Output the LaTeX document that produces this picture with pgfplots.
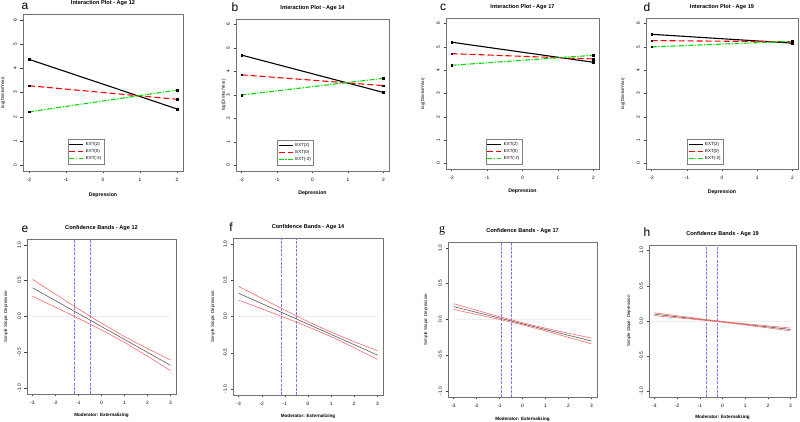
\documentclass[border=0pt]{standalone}
\usepackage{pgfplots}
\pgfplotsset{compat=1.18}
\usepackage{fontspec}
\setmainfont{Liberation Sans}
\newfontfamily\serifletter{Liberation Serif}
\definecolor{rgreen}{RGB}{0,220,0}
\definecolor{rred}{RGB}{255,0,0}
\definecolor{band}{RGB}{255,105,105}
\definecolor{cbl}{RGB}{120,120,255}
\tikzset{
 sblk/.style={black, line width=1.1pt},
 sred/.style={rred, line width=1.1pt, dash pattern=on 6pt off 3pt},
 sgrn/.style={rgreen, line width=1.1pt, dash pattern=on 5pt off 1.5pt on 1.2pt off 1.5pt},
 sctr/.style={black!65, line width=0.6pt},
 sbnd/.style={band, line width=0.6pt},
 svbl/.style={cbl, line width=0.7pt, dash pattern=on 3pt off 1.2pt},
 szer/.style={black!12, line width=0.4pt, dash pattern=on 1pt off 1pt},
}
\pgfplotsset{
 rstyle/.style={
  scale only axis, anchor=south west,
  axis line style={black!55, line width=0.5pt},
  tick align=outside, xtick pos=bottom, ytick pos=left,
  major tick length=2.5pt, tick style={black!75, line width=0.4pt},
  ticklabel style={font=\fontsize{4.8}{5}\selectfont},
  /pgf/number format/assume math mode=true,
  yticklabel style={rotate=90, anchor=south},
  xticklabel style={yshift=-1pt},
  title style={font=\fontsize{5.6}{6}\selectfont\bfseries, at={(0.5,1)}, anchor=center, yshift=5pt},
  xlabel style={font=\fontsize{5.2}{6}\selectfont\bfseries, anchor=center},
  ylabel style={font=\fontsize{4.4}{5}\selectfont, anchor=center},
 },
 top/.style={rstyle, xmin=-2.16, xmax=2.16, ymin=-0.24, ymax=6.24,
  xtick={-2,-1,0,1,2}, ytick={0,1,2,3,4,5,6},
  xlabel={Depression}, ylabel={log(Drinks/Year)},
  legend style={draw=black!50, font=\fontsize{4.4}{5}\selectfont, inner sep=0.8pt, row sep=-1.5pt, anchor=south west, fill=white},
  legend cell align=left,
  legend image code/.code={\draw[##1] (0pt,0pt) -- (14pt,0pt);},
 },
 bot/.style={rstyle, xmin=-3.24, xmax=3.24, ymin=-1.08, ymax=1.08,
  xtick={-3,-2,-1,0,1,2,3}, ytick={-1,-0.5,0,0.5,1},
  yticklabel style={/pgf/number format/.cd, fixed, fixed zerofill, precision=1},
  xlabel={Moderator: Externalizing}, ylabel={Simple Slope: Depression},
  xlabel style={font=\fontsize{4.6}{5}\selectfont\bfseries},
 },
 ends/.style={only marks, mark=square*, mark size=0.8pt, black, forget plot},
}
\begin{document}
\begin{tikzpicture}
\path[use as bounding box] (0pt,0pt) rectangle (800pt,422pt);

% ---------- a ----------
\begin{axis}[top, at={(23pt,251pt)}, width=160pt, height=157pt,
  title={Interaction Plot - Age 12},
  xlabel style={at={(axis description cs:0.5,-0.153)}},
  ylabel style={at={(axis description cs:-0.125,0.5)}},
  legend style={at={(0.28,0.045)}}]
\addlegendimage{sblk}\addlegendimage{sred}\addlegendimage{sgrn}
\addplot[sblk, forget plot] coordinates {(-2,4.37) (2,2.32)};
\addplot[sred, forget plot] coordinates {(-2,3.28) (2,2.72)};
\addplot[sgrn, forget plot] coordinates {(-2,2.20) (2,3.10)};
\addplot[ends] coordinates {(-2,4.37) (2,2.32) (-2,3.28) (2,2.72) (-2,2.20) (2,3.10)};
\legend{EXT(2),EXT(0),EXT(-2)}
\end{axis}

% ---------- b ----------
\begin{axis}[top, at={(236pt,251pt)}, width=153pt, height=152pt,
  title={Interaction Plot - Age 14},
  xlabel style={at={(axis description cs:0.5,-0.145)}},
  ylabel style={at={(axis description cs:-0.08,0.5)}},
  legend style={at={(0.27,0.04)}}]
\addlegendimage{sblk}\addlegendimage{sred}\addlegendimage{sgrn}
\addplot[sblk, forget plot] coordinates {(-2,4.70) (2,3.11)};
\addplot[sred, forget plot] coordinates {(-2,3.86) (2,3.40)};
\addplot[sgrn, forget plot] coordinates {(-2,3.00) (2,3.71)};
\addplot[ends] coordinates {(-2,4.70) (2,3.11) (-2,3.86) (2,3.40) (-2,3.00) (2,3.71)};
\legend{EXT(2),EXT(0),EXT(-2)}
\end{axis}

% ---------- c ----------
\begin{axis}[top, at={(446pt,253pt)}, width=153pt, height=151pt,
  title={Interaction Plot - Age 17},
  xlabel style={at={(axis description cs:0.5,-0.146)}},
  ylabel style={at={(axis description cs:-0.15,0.5)}},
  legend style={at={(0.26,0.033)}}]
\addlegendimage{sblk}\addlegendimage{sred}\addlegendimage{sgrn}
\addplot[sblk, forget plot] coordinates {(-2,5.20) (2,4.34)};
\addplot[sred, forget plot] coordinates {(-2,4.71) (2,4.48)};
\addplot[sgrn, forget plot] coordinates {(-2,4.21) (2,4.64)};
\addplot[ends] coordinates {(-2,5.20) (2,4.34) (-2,4.71) (2,4.48) (-2,4.21) (2,4.64)};
\legend{EXT(2),EXT(0),EXT(-2)}
\end{axis}

% ---------- d ----------
\begin{axis}[top, at={(646pt,253pt)}, width=152pt, height=151pt,
  title={Interaction Plot - Age 19},
  xlabel style={at={(axis description cs:0.5,-0.152)}},
  ylabel style={at={(axis description cs:-0.151,0.5)}},
  legend style={at={(0.27,0.033)}}]
\addlegendimage{sblk}\addlegendimage{sred}\addlegendimage{sgrn}
\addplot[sblk, forget plot] coordinates {(-2,5.54) (2,5.16)};
\addplot[sred, forget plot] coordinates {(-2,5.27) (2,5.22)};
\addplot[sgrn, forget plot] coordinates {(-2,5.00) (2,5.24)};
\addplot[ends] coordinates {(-2,5.54) (2,5.16) (-2,5.27) (2,5.22) (-2,5.00) (2,5.24)};
\legend{EXT(2),EXT(0),EXT(-2)}
\end{axis}

% ---------- e ----------
\begin{axis}[bot, at={(27pt,28pt)}, width=149pt, height=155pt,
  title={Confidence Bands - Age 12},
  xlabel style={at={(axis description cs:0.5,-0.135)}},
  ylabel style={at={(axis description cs:-0.141,0.5)}}]
\addplot[szer] coordinates {(-3,0) (3,0)};
\addplot[svbl] coordinates {(-1.17,-1.08) (-1.17,1.08)};
\addplot[svbl] coordinates {(-0.48,-1.08) (-0.48,1.08)};
\addplot[sctr] coordinates {(-3,0.40) (3,-0.68)};
\addplot[sbnd] coordinates {(-3,0.517) (-2,0.310) (-1,0.1055) (0,-0.094) (1,-0.280) (2,-0.447) (3,-0.605)};
\addplot[sbnd] coordinates {(-3,0.283) (-2,0.130) (-1,-0.0255) (0,-0.186) (1,-0.360) (2,-0.553) (3,-0.755)};
\end{axis}

% ---------- f ----------
\begin{axis}[bot, at={(233pt,27pt)}, width=150pt, height=157pt,
  title={Confidence Bands - Age 14},
  xlabel style={at={(axis description cs:0.5,-0.134)}},
  ylabel style={at={(axis description cs:-0.133,0.5)}}]
\addplot[szer] coordinates {(-3,0) (3,0)};
\addplot[svbl] coordinates {(-1.15,-1.08) (-1.15,1.08)};
\addplot[svbl] coordinates {(-0.49,-1.08) (-0.49,1.08)};
\addplot[sctr] coordinates {(-3,0.32) (3,-0.53)};
\addplot[sbnd] coordinates {(-3,0.415) (-2,0.251) (-1,0.089) (0,-0.070) (1,-0.216) (2,-0.347) (3,-0.470)};
\addplot[sbnd] coordinates {(-3,0.225) (-2,0.106) (-1,-0.015) (0,-0.141) (1,-0.277) (2,-0.430) (3,-0.590)};
\end{axis}

% ---------- g ----------
\begin{axis}[bot, at={(448pt,25pt)}, width=149pt, height=155pt,
  title={Confidence Bands - Age 17},
  xlabel style={at={(axis description cs:0.5,-0.142)}},
  ylabel style={at={(axis description cs:-0.148,0.5)}}]
\addplot[szer] coordinates {(-3,0) (3,0)};
\addplot[svbl] coordinates {(-0.905,-1.08) (-0.905,1.08)};
\addplot[svbl] coordinates {(-0.475,-1.08) (-0.475,1.08)};
\addplot[sctr] coordinates {(-3,0.18) (3,-0.30)};
\addplot[sbnd] coordinates {(-3,0.22) (-2,0.129) (-1,0.039) (0,-0.046) (1,-0.121) (2,-0.191) (3,-0.26)};
\addplot[sbnd] coordinates {(-3,0.14) (-2,0.071) (-1,0.001) (0,-0.074) (1,-0.159) (2,-0.249) (3,-0.34)};
\end{axis}

% ---------- h ----------
\begin{axis}[bot, at={(649pt,25pt)}, width=147pt, height=152pt,
  title={Confidence Bands - Age 19},
  xlabel style={at={(axis description cs:0.5,-0.132)}},
  ylabel style={at={(axis description cs:-0.136,0.5)}}]
\addplot[szer] coordinates {(-3,0) (3,0)};
\addplot[svbl] coordinates {(-0.714,-1.08) (-0.714,1.08)};
\addplot[svbl] coordinates {(-0.242,-1.08) (-0.242,1.08)};
\addplot[sctr] coordinates {(-3,0.096) (3,-0.12)};
\addplot[sbnd] coordinates {(-3,0.116) (-2,0.074) (-1,0.032) (0,-0.0065) (1,-0.040) (2,-0.070) (3,-0.100)};
\addplot[sbnd] coordinates {(-3,0.076) (-2,0.046) (-1,0.016) (0,-0.0175) (1,-0.056) (2,-0.098) (3,-0.140)};
\end{axis}

% panel letters
\begin{scope}[every node/.style={font=\fontsize{12}{12}\selectfont, inner sep=0pt}]
\node at (25pt,416pt) {a};
\node at (235pt,415pt) {b};
\node at (443pt,415pt) {c};
\node at (647pt,415pt) {d};
\node at (25pt,193pt) {e};
\node at (231pt,195pt) {f};
\node at (442pt,191pt) {\serifletter g};
\node at (647pt,190pt) {h};
\end{scope}
\end{tikzpicture}
\end{document}
